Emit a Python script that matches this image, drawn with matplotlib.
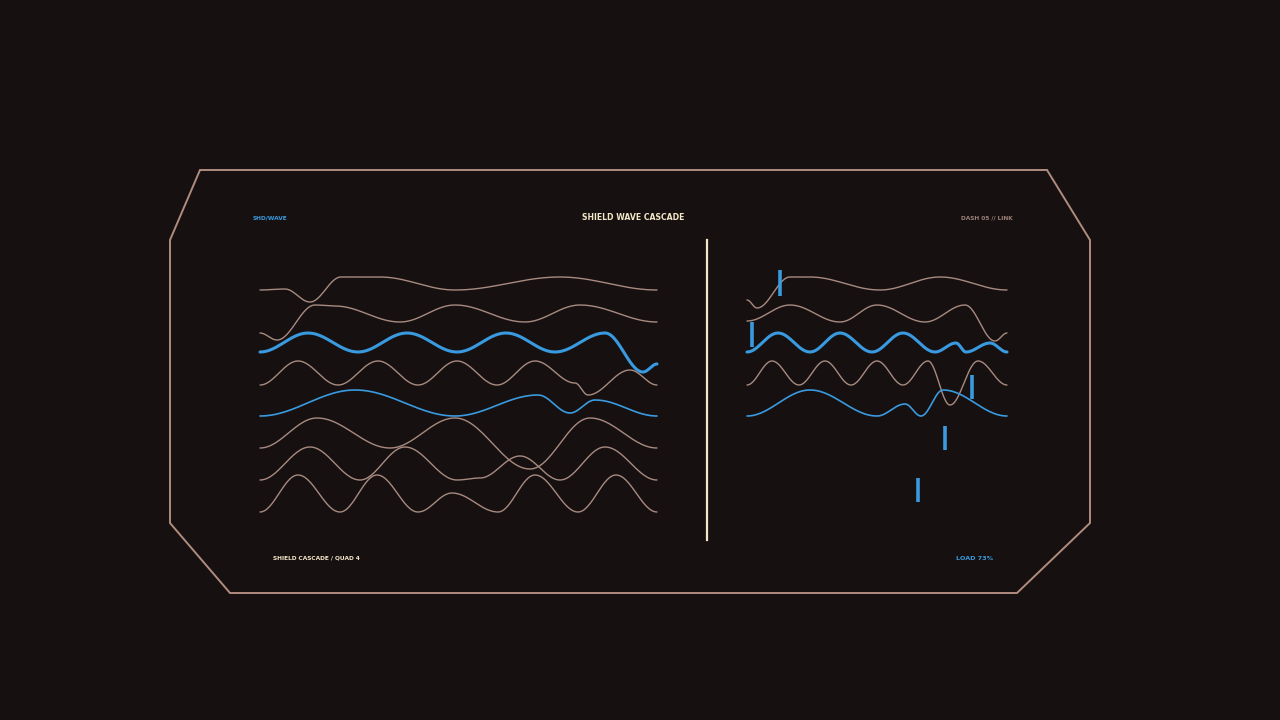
import numpy as np
import matplotlib
matplotlib.use("Agg")
import matplotlib.pyplot as plt
from matplotlib.patches import Polygon

BG = "#161110"; GRAY = "#a88a80"; BLUE = "#3a9ae0"; CREAM = "#f4e6c8"; FRAME = "#b08c7e"

# Waves: knot x positions and heights (px above baseline) at extrema
left_baselines = [290, 322, 352, 385, 416, 448, 480, 512]
left_colors = ["g", "g", "B", "g", "b", "g", "g", "g"]
left_x = [
    [260, 285, 310, 341, 380, 455, 560, 657],
    [260, 277, 315, 335, 400, 455, 525, 580, 657],
    [260, 308, 358, 407, 457, 506, 555, 605, 643, 657],
    [260, 298, 338, 378, 418, 457, 497, 535, 575, 588, 630, 657],
    [260, 355, 455, 538, 570, 595, 657],
    [260, 317, 390, 455, 530, 590, 657],
    [260, 310, 360, 405, 457, 480, 520, 560, 605, 657],
    [260, 298, 340, 377, 418, 452, 498, 535, 578, 616, 657],
]
left_h = [
    [0, 1, -12, 13, 13, 0, 13, 0],
    [-11, -18, 17, 16, 0, 17, 0, 17, 0],
    [0, 19, 0, 19, 0, 19, 0, 19, -20, -12],
    [0, 24, 0, 24, 0, 24, 0, 24, 2, -10, 15, 0],
    [0, 26, 0, 21, 3, 16, 0],
    [0, 30, 0, 30, -21, 30, 0],
    [0, 33, 0, 33, 0, 2, 24, 0, 33, 0],
    [0, 37, 0, 37, 0, 19, 0, 37, 0, 37, 0],
]

right_baselines = [290, 322, 352, 385, 416]
right_colors = ["g", "g", "B", "g", "b"]
right_x = [
    [747, 757, 790, 810, 880, 940, 1007],
    [747, 790, 840, 877, 925, 965, 995, 1007],
    [747, 778, 810, 840, 872, 903, 935, 956, 966, 990, 1007],
    [747, 772, 799, 825, 851, 877, 903, 928, 950, 978, 1007],
    [747, 810, 877, 905, 921, 943, 1007],
]
right_h = [
    [-10, -18, 13, 13, 0, 13, 0],
    [1, 17, 0, 17, 0, 17, -19, -11],
    [0, 19, 0, 19, 0, 19, 0, 9, 0, 9, 0],
    [0, 24, 0, 24, 0, 24, 0, 24, -20, 24, 0],
    [0, 26, 0, 12, 0, 26, 0],
]

# Blue marker bars: x, top, bottom
bar_x = [780, 752, 972, 945, 918]
bar_top = [270, 322, 375, 426, 478]
bar_bot = [296, 347, 399, 450, 502]


def cosine_path(x, y, n=30):
    xs, ys = [], []
    t = np.linspace(0, 1, n, endpoint=False)
    s = (1 - np.cos(np.pi * t)) / 2
    for i in range(len(x) - 1):
        xs.extend(x[i] + (x[i + 1] - x[i]) * t)
        ys.extend(y[i] + (y[i + 1] - y[i]) * s)
    xs.append(x[-1]); ys.append(y[-1])
    return np.array(xs), np.array(ys)


fig = plt.figure(figsize=(12.8, 7.2), dpi=100, facecolor=BG)
ax = fig.add_axes([0, 0, 1, 1])
ax.set_xlim(0, 1280); ax.set_ylim(720, 0); ax.axis("off"); ax.set_facecolor(BG)

ax.add_patch(Polygon([(200, 170), (1047, 170), (1090, 240), (1090, 523), (1017, 593),
                      (230, 593), (170, 523), (170, 240)], closed=True, fill=False,
                     edgecolor=FRAME, lw=1.4))

style = {"g": (GRAY, 1.0), "b": (BLUE, 1.2), "B": (BLUE, 2.2)}
for bases, cols, xsl, hsl in ((left_baselines, left_colors, left_x, left_h),
                              (right_baselines, right_colors, right_x, right_h)):
    for base, c, xk, hk in zip(bases, cols, xsl, hsl):
        sx, sy = cosine_path(np.array(xk, float), base - np.array(hk, float))
        col, lw = style[c]
        ax.plot(sx, sy, color=col, lw=lw, solid_capstyle="round")

ax.plot([707, 707], [240, 540], color=CREAM, lw=1.6)
ax.vlines(bar_x, bar_top, bar_bot, color=BLUE, lw=2.6)

fk = dict(fontweight="bold", family=["DejaVu Sans Condensed", "DejaVu Sans"])
ax.text(253, 218, "SHD/WAVE", color=BLUE, fontsize=4.2, va="center", ha="left", **fk)
ax.text(633, 217, "SHIELD WAVE CASCADE", color=CREAM, fontsize=5.6, va="center", ha="center", **fk)
ax.text(1013, 218, "DASH 05 // LINK", color="#9a8078", fontsize=4.2, va="center", ha="right", **fk)
ax.text(273, 558, "SHIELD CASCADE / QUAD 4", color=CREAM, fontsize=4.2, va="center", ha="left", **fk)
ax.text(993, 558, "LOAD 73%", color=BLUE, fontsize=4.6, va="center", ha="right", **fk)

fig.savefig("out.png", dpi=100, facecolor=BG)
